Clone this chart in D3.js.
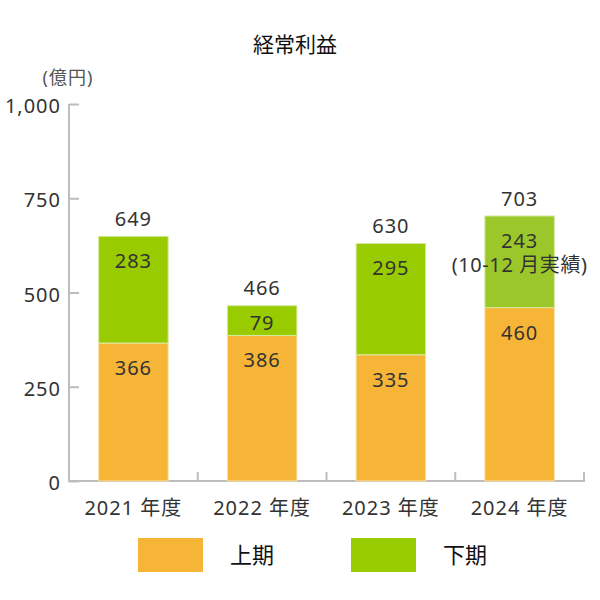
<!DOCTYPE html>
<html><head><meta charset="utf-8">
<script src="https://cdn.jsdelivr.net/npm/d3@7"></script>
<style>body{margin:0;background:#fff}svg{display:block}text{font-family:"Noto Sans","Noto Sans CJK JP",sans-serif}</style>
</head><body><svg width="600" height="600"></svg>
<script>
const categories = ["2021 年度","2022 年度","2023 年度","2024 年度"];
const firstHalf = [366,386,335,460];
const secondHalf = [283,79,295,243];
const totals = [649,466,630,703];
const secondNotes = ["","","","(10-12 月実績)"];
const yTicks = [0,250,500,750,1000];
const seriesNames = ["上期","下期"];
const colors = ["#F7B538","#99CC00"];
const lastGreen = "#9CC72B";

const svg = d3.select("svg");
const x = d3.scaleBand().domain(categories).range([69,584]).paddingInner(0.46).paddingOuter(0.23);
const y = d3.scaleLinear().domain([0,1000]).range([481,104]);
const FS = 20, LS = 1;

svg.append("text").attr("x",295).attr("y",45).attr("dy","0.35em").attr("text-anchor","middle").attr("font-size",21).attr("fill","#111").text("経常利益");
svg.append("text").attr("x",68).attr("y",78).attr("dy","0.35em").attr("text-anchor","middle").attr("font-size",18).attr("letter-spacing",1).attr("fill","#555").text("(億円)");

// axes
const yAxis = d3.axisRight(y).tickValues(yTicks).tickSize(10).tickFormat("");
const gy = svg.append("g").attr("transform","translate(69,0)").call(yAxis);
gy.select(".domain").attr("d","M0,"+y(1000)+"V"+y(0));
gy.selectAll("path,line").attr("stroke","#bdbdbd").attr("stroke-width",2);
svg.selectAll(".ytl").data(yTicks).join("text").attr("class","ytl")
  .attr("x",61).attr("y",d=>y(d)+2).attr("dy","0.35em").attr("text-anchor","end")
  .attr("font-size",FS).attr("letter-spacing",LS).attr("fill","#333").text(d3.format(","));

const xTickScale = d3.scaleLinear().domain([0,4]).range([69,584]);
svg.append("line").attr("x1",68).attr("x2",585).attr("y1",481).attr("y2",481).attr("stroke","#bdbdbd").attr("stroke-width",2);
svg.selectAll(".xt").data(d3.range(5)).join("line").attr("class","xt")
  .attr("x1",d=>xTickScale(d)).attr("x2",d=>xTickScale(d)).attr("y1",481).attr("y2",472)
  .attr("stroke","#bdbdbd").attr("stroke-width",2);
svg.selectAll(".xl").data(categories).join("text").attr("class","xl")
  .attr("x",d=>x(d)+x.bandwidth()/2).attr("y",508).attr("dy","0.35em").attr("text-anchor","middle")
  .attr("font-size",FS).attr("letter-spacing",LS).attr("fill","#333").text(d=>d);

// bars
const rows = categories.map((c,i)=>({c,i,a:firstHalf[i],b:secondHalf[i]}));
const g = svg.append("g");
g.selectAll(".b1").data(rows).join("rect").attr("class","b1")
  .attr("x",d=>x(d.c)).attr("width",x.bandwidth())
  .attr("y",d=>y(d.a)).attr("height",d=>y(0)-y(d.a))
  .attr("fill",colors[0]).attr("stroke","#fbe0a6").attr("stroke-width",1);
g.selectAll(".b2").data(rows).join("rect").attr("class","b2")
  .attr("x",d=>x(d.c)).attr("width",x.bandwidth())
  .attr("y",d=>y(d.a+d.b)).attr("height",d=>y(d.a)-y(d.a+d.b))
  .attr("fill",d=>d.i===3?lastGreen:colors[1]).attr("stroke","#d6eba0").attr("stroke-width",1);

function off(h){return Math.min(25,h/2+2);}
const cx = d=>x(d.c)+x.bandwidth()/2;
g.selectAll(".l1").data(rows).join("text").attr("class","l1")
  .attr("x",cx).attr("y",d=>y(d.a)+off(y(0)-y(d.a))).attr("dy","0.35em")
  .attr("text-anchor","middle").attr("font-size",FS).attr("letter-spacing",LS).attr("fill","#333").text(d=>d.a);
g.selectAll(".l2").data(rows).join("text").attr("class","l2")
  .attr("x",cx).attr("y",d=>y(d.a+d.b)+off(y(d.a)-y(d.a+d.b))).attr("dy","0.35em")
  .attr("text-anchor","middle").attr("font-size",FS).attr("letter-spacing",LS).attr("fill","#333").text(d=>d.b);
g.selectAll(".l3").data(rows.filter(d=>secondNotes[d.i])).join("text").attr("class","l3")
  .attr("x",cx).attr("y",d=>y(d.a+d.b)+49).attr("dy","0.35em")
  .attr("text-anchor","middle").attr("font-size",FS).attr("letter-spacing",0.6).attr("fill","#333").text(d=>secondNotes[d.i]);
g.selectAll(".lt").data(rows).join("text").attr("class","lt")
  .attr("x",cx).attr("y",d=>y(totals[d.i])-17).attr("dy","0.35em")
  .attr("text-anchor","middle").attr("font-size",FS).attr("letter-spacing",LS).attr("fill","#333").text(d=>totals[d.i]);

// legend
const lg = svg.append("g");
const lx = d3.scaleOrdinal().domain(seriesNames).range([138,351]);
lg.selectAll("rect").data(seriesNames).join("rect")
  .attr("x",d=>lx(d)).attr("y",538).attr("width",65).attr("height",34)
  .attr("fill",(d,i)=>colors[i]);
lg.selectAll("text").data(seriesNames).join("text")
  .attr("x",d=>lx(d)+92).attr("y",555).attr("dy","0.35em")
  .attr("font-size",22).attr("fill","#111").text(d=>d);
</script></body></html>
